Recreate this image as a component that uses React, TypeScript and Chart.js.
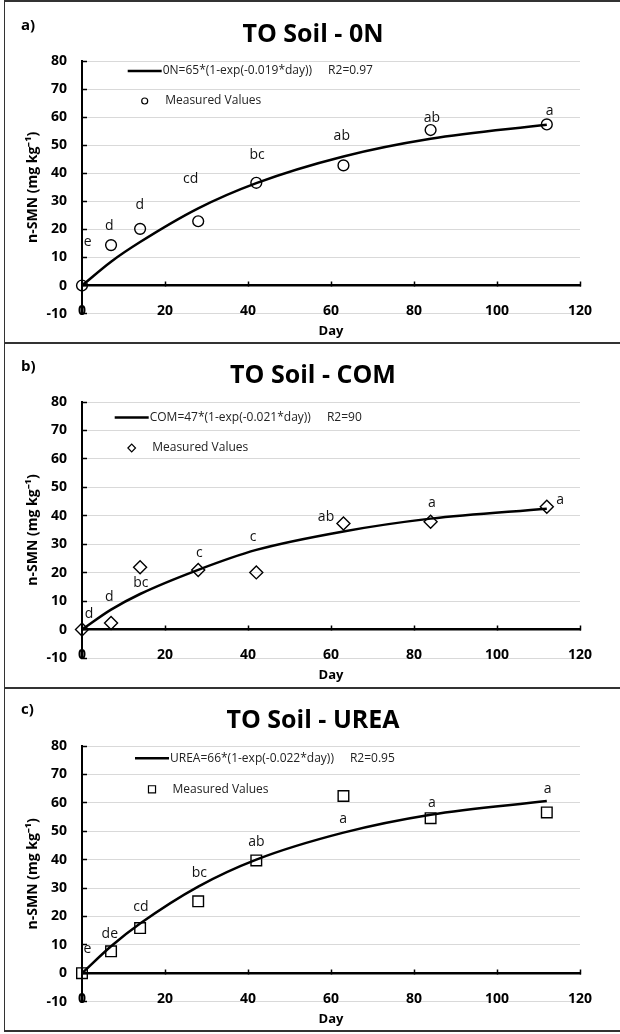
import React, { useEffect, useRef } from 'react';
import { Chart, registerables } from 'chart.js';

Chart.register(...registerables);
Chart.defaults.font.family = '"Open Sans", sans-serif';
Chart.defaults.color = '#000';

// ---------- data ----------
const days = [0, 7, 14, 28, 42, 63, 84, 112];
const xTickValues = [0, 20, 40, 60, 80, 100, 120];
const yTickValues = [-10, 0, 10, 20, 30, 40, 50, 60, 70, 80];

// Panel a) 0N
const measuredON = [0, 14.4, 20.2, 22.9, 36.6, 42.8, 55.4, 57.4];
const fitON = [0, 8.5, 15.5, 27.5, 36.5, 46, 52.3, 57.3];
const lettersON = ['e', 'd', 'd', 'cd', 'bc', 'ab', 'ab', 'a'];
const letterDayON = [1.35, 6.6, 13.9, 26.2, 42.2, 62.6, 84.3, 112.7];
const letterValON = [15.6, 21.2, 28.6, 38.1, 46.6, 53.3, 59.6, 62.1];

// Panel b) COM
const measuredCOM = [0, 2.3, 21.9, 20.9, 20.1, 37.3, 37.9, 43.2];
const fitCOM = [0, 7, 12.5, 21, 28, 34.5, 39, 42.5];
const lettersCOM = ['d', 'd', 'bc', 'c', 'c', 'ab', 'a', 'a'];
const letterDayCOM = [1.7, 6.6, 14.2, 28.3, 41.2, 58.8, 84.3, 115.2];
const letterValCOM = [5.4, 11.5, 16.5, 26.8, 32.6, 39.4, 44.4, 45.5];

// Panel c) UREA
const measuredUREA = [0, 7.7, 15.9, 25.3, 39.7, 62.4, 54.6, 56.6];
const fitUREA = [0, 9.5, 17.5, 30.5, 40, 49.5, 55.8, 60.6];
const lettersUREA = ['e', 'de', 'cd', 'bc', 'ab', 'a', 'a', 'a'];
const letterDayUREA = [1.3, 6.7, 14.2, 28.3, 42, 62.9, 84.3, 112.2];
const letterValUREA = [8.6, 13.8, 23.3, 35.3, 46.2, 54.3, 60.1, 64.8];

type PanelCfg = {
  tag: string;
  title: string;
  fitLabel: string;
  r2: string;
  measured: number[];
  fit: number[];
  letters: string[];
  letterDay: number[];
  letterVal: number[];
  pointStyle: string;
  pointRadius: number;
  legendMarkerRadius: number;
  divTop: number;
  canvasH: number;
  bottomBorder: boolean;
  titlePadTop: number;
  titlePadBottom: number;
  bottomSpace: number;
  dayPad: number;
  legendDx: number;
  legendDy1: number;
  legendDy2: number;
  tagY: number;
};

const panels: PanelCfg[] = [
  {
    tag: 'a)', title: 'TO Soil - 0N', fitLabel: '0N=65*(1-exp(-0.019*day))', r2: 'R2=0.97',
    measured: measuredON, fit: fitON, letters: lettersON, letterDay: letterDayON, letterVal: letterValON,
    pointStyle: 'circle', pointRadius: 5.4, legendMarkerRadius: 3,
    divTop: 0, canvasH: 340, bottomBorder: false,
    titlePadTop: 18, titlePadBottom: 11, bottomSpace: 25, dayPad: 0,
    legendDx: 45.7, legendDy1: 10, legendDy2: 40, tagY: 24,
  },
  {
    tag: 'b)', title: 'TO Soil - COM', fitLabel: 'COM=47*(1-exp(-0.021*day))', r2: 'R2=90',
    measured: measuredCOM, fit: fitCOM, letters: lettersCOM, letterDay: letterDayCOM, letterVal: letterValCOM,
    pointStyle: 'rectRot', pointRadius: 6.5, legendMarkerRadius: 3.8,
    divTop: 342, canvasH: 343, bottomBorder: false,
    titlePadTop: 17, titlePadBottom: 11, bottomSpace: 29, dayPad: 4,
    legendDx: 32.7, legendDy1: 15.4, legendDy2: 46, tagY: 23,
  },
  {
    tag: 'c)', title: 'TO Soil - UREA', fitLabel: 'UREA=66*(1-exp(-0.022*day))', r2: 'R2=0.95',
    measured: measuredUREA, fit: fitUREA, letters: lettersUREA, letterDay: letterDayUREA, letterVal: letterValUREA,
    pointStyle: 'rect', pointRadius: 7.5, legendMarkerRadius: 5,
    divTop: 687, canvasH: 341, bottomBorder: true,
    titlePadTop: 17, titlePadBottom: 10, bottomSpace: 28, dayPad: 3,
    legendDx: 53, legendDy1: 12.3, legendDy2: 43.3, tagY: 21,
  },
];

function drawMarker(ctx: CanvasRenderingContext2D, style: string, x: number, y: number, r: number) {
  ctx.beginPath();
  if (style === 'circle') {
    ctx.arc(x, y, r, 0, Math.PI * 2);
  } else if (style === 'rectRot') {
    ctx.moveTo(x - r, y);
    ctx.lineTo(x, y - r);
    ctx.lineTo(x + r, y);
    ctx.lineTo(x, y + r);
    ctx.closePath();
  } else {
    const s = r * Math.SQRT1_2;
    ctx.rect(x - s, y - s, 2 * s, 2 * s);
  }
  ctx.stroke();
}

function makePanelPlugin(cfg: PanelCfg) {
  return {
    id: 'panelDecor',
    afterDatasetsDraw(chart: any) {
      const { ctx, chartArea, scales } = chart;
      const xs = scales.x;
      const ys = scales.y;
      ctx.save();
      // significance letters
      ctx.font = '14px "Open Sans"';
      ctx.fillStyle = '#111';
      ctx.textAlign = 'center';
      ctx.textBaseline = 'middle';
      cfg.letters.forEach((t, i) => {
        ctx.fillText(t, xs.getPixelForValue(cfg.letterDay[i]), ys.getPixelForValue(cfg.letterVal[i]));
      });
      // legend inside plot
      const meas = chart.data.datasets[0];
      const fitDs = chart.data.datasets[1];
      const x0 = chartArea.left + cfg.legendDx;
      const y1 = chartArea.top + cfg.legendDy1;
      const y2 = chartArea.top + cfg.legendDy2;
      ctx.strokeStyle = fitDs.borderColor;
      ctx.lineWidth = fitDs.borderWidth;
      ctx.beginPath();
      ctx.moveTo(x0, y1);
      ctx.lineTo(x0 + 34, y1);
      ctx.stroke();
      ctx.font = '12px "Open Sans"';
      ctx.fillStyle = '#222';
      ctx.textAlign = 'left';
      ctx.fillText(fitDs.label, x0 + 35, y1);
      const w = ctx.measureText(fitDs.label).width;
      ctx.fillText(cfg.r2, x0 + 35 + w + 16, y1);
      ctx.strokeStyle = meas.pointBorderColor;
      ctx.lineWidth = 1.2;
      drawMarker(ctx, cfg.pointStyle, x0 + 17, y2, cfg.legendMarkerRadius);
      ctx.fillText(meas.label, x0 + 37.5, y2);
      // panel tag
      ctx.font = 'bold 15px "Open Sans"';
      ctx.fillStyle = '#000';
      ctx.fillText(cfg.tag, 15, cfg.tagY);
      ctx.restore();
    },
  };
}

function Panel({ cfg }: { cfg: PanelCfg }) {
  const ref = useRef<HTMLCanvasElement>(null);
  useEffect(() => {
    const chart = new Chart(ref.current as HTMLCanvasElement, {
      type: 'scatter',
      data: {
        datasets: [
          {
            type: 'scatter',
            label: 'Measured Values',
            data: days.map((d, i) => ({ x: d, y: cfg.measured[i] })),
            pointStyle: cfg.pointStyle as any,
            pointRadius: cfg.pointRadius,
            pointBorderColor: '#000',
            pointBackgroundColor: 'rgba(0,0,0,0)',
            pointBorderWidth: 1.4,
            showLine: false,
            clip: false as any,
            xAxisID: 'x',
            yAxisID: 'y',
          } as any,
          {
            type: 'line',
            label: cfg.fitLabel,
            data: days.map((d, i) => ({ x: d, y: cfg.fit[i] })),
            borderColor: '#000',
            borderWidth: 2.5,
            pointRadius: 0,
            fill: false,
            cubicInterpolationMode: 'monotone',
            clip: false as any,
            xAxisID: 'x',
            yAxisID: 'y',
          } as any,
        ],
      },
      options: {
        animation: false,
        responsive: false,
        devicePixelRatio: 1,
        layout: { padding: 0 },
        plugins: {
          legend: { display: false },
          tooltip: { enabled: false },
          title: {
            display: true,
            text: cfg.title,
            color: '#000',
            font: { size: 25, weight: 'bold' },
            padding: { top: cfg.titlePadTop, bottom: cfg.titlePadBottom },
          },
        },
        scales: {
          x: {
            type: 'linear',
            position: { y: 0 } as any,
            min: 0,
            max: 120,
            afterBuildTicks: (s: any) => {
              s.ticks = xTickValues.map((v) => ({ value: v }));
            },
            grid: {
              display: true,
              drawOnChartArea: false,
              drawTicks: true,
              tickLength: -5,
              tickColor: '#000',
              tickWidth: 1.5,
            },
            border: { display: true, color: '#000', width: 2.5 },
            ticks: { font: { size: 14, weight: 'bold' }, color: '#000', padding: 22, maxRotation: 0, autoSkip: false },
          },
          x2: {
            type: 'linear',
            position: 'bottom',
            grid: { display: false },
            border: { display: false },
            ticks: { display: false },
            title: {
              display: true,
              text: 'Day',
              color: '#000',
              font: { size: 13, weight: 'bold' },
              padding: { top: 0, bottom: cfg.dayPad },
            },
            afterFit: (s: any) => {
              s.height = cfg.bottomSpace;
            },
          },
          y: {
            type: 'linear',
            position: 'left',
            min: -10,
            max: 80,
            afterBuildTicks: (s: any) => {
              s.ticks = yTickValues.map((v) => ({ value: v }));
            },
            grid: {
              color: (c: any) => (c.tick && c.tick.value === 0 ? 'rgba(0,0,0,0)' : '#d9d9d9'),
              lineWidth: 1,
              drawTicks: true,
              tickLength: -5,
              tickColor: '#000',
              tickWidth: 1.5,
            },
            border: { display: true, color: '#000', width: 2 },
            ticks: { font: { size: 14, weight: 'bold' }, color: '#000', padding: 20 },
            title: {
              display: true,
              text: 'n-SMN (mg kg\u207B\u00B9)',
              color: '#000',
              font: { size: 14, weight: 'bold' },
              padding: { top: 19, bottom: 0 },
            },
            afterFit: (s: any) => {
              s.width = 76;
            },
          },
          y2: {
            type: 'linear',
            position: 'right',
            grid: { display: false },
            border: { display: false },
            ticks: { display: false },
            afterFit: (s: any) => {
              s.width = 40;
            },
          },
        },
      } as any,
      plugins: [makePanelPlugin(cfg) as any],
    });
    return () => chart.destroy();
  }, [cfg]);

  return (
    <div
      style={{
        position: 'absolute',
        left: 4,
        top: cfg.divTop,
        width: 660,
        height: cfg.canvasH,
        borderTop: '2px solid #333',
        borderLeft: '1px solid #333',
        borderBottom: cfg.bottomBorder ? '2px solid #333' : 'none',
        background: '#fff',
      }}
    >
      <canvas
        ref={ref}
        width={614}
        height={cfg.canvasH}
        style={{ position: 'absolute', left: 1, top: 0, width: 614, height: cfg.canvasH, display: 'block' }}
      />
    </div>
  );
}

export default function App() {
  return (
    <div
      style={{
        position: 'absolute',
        left: 0,
        top: 0,
        width: 620,
        height: 1034,
        overflow: 'hidden',
        background: '#fff',
      }}
    >
      {panels.map((p) => (
        <Panel key={p.tag} cfg={p} />
      ))}
    </div>
  );
}
